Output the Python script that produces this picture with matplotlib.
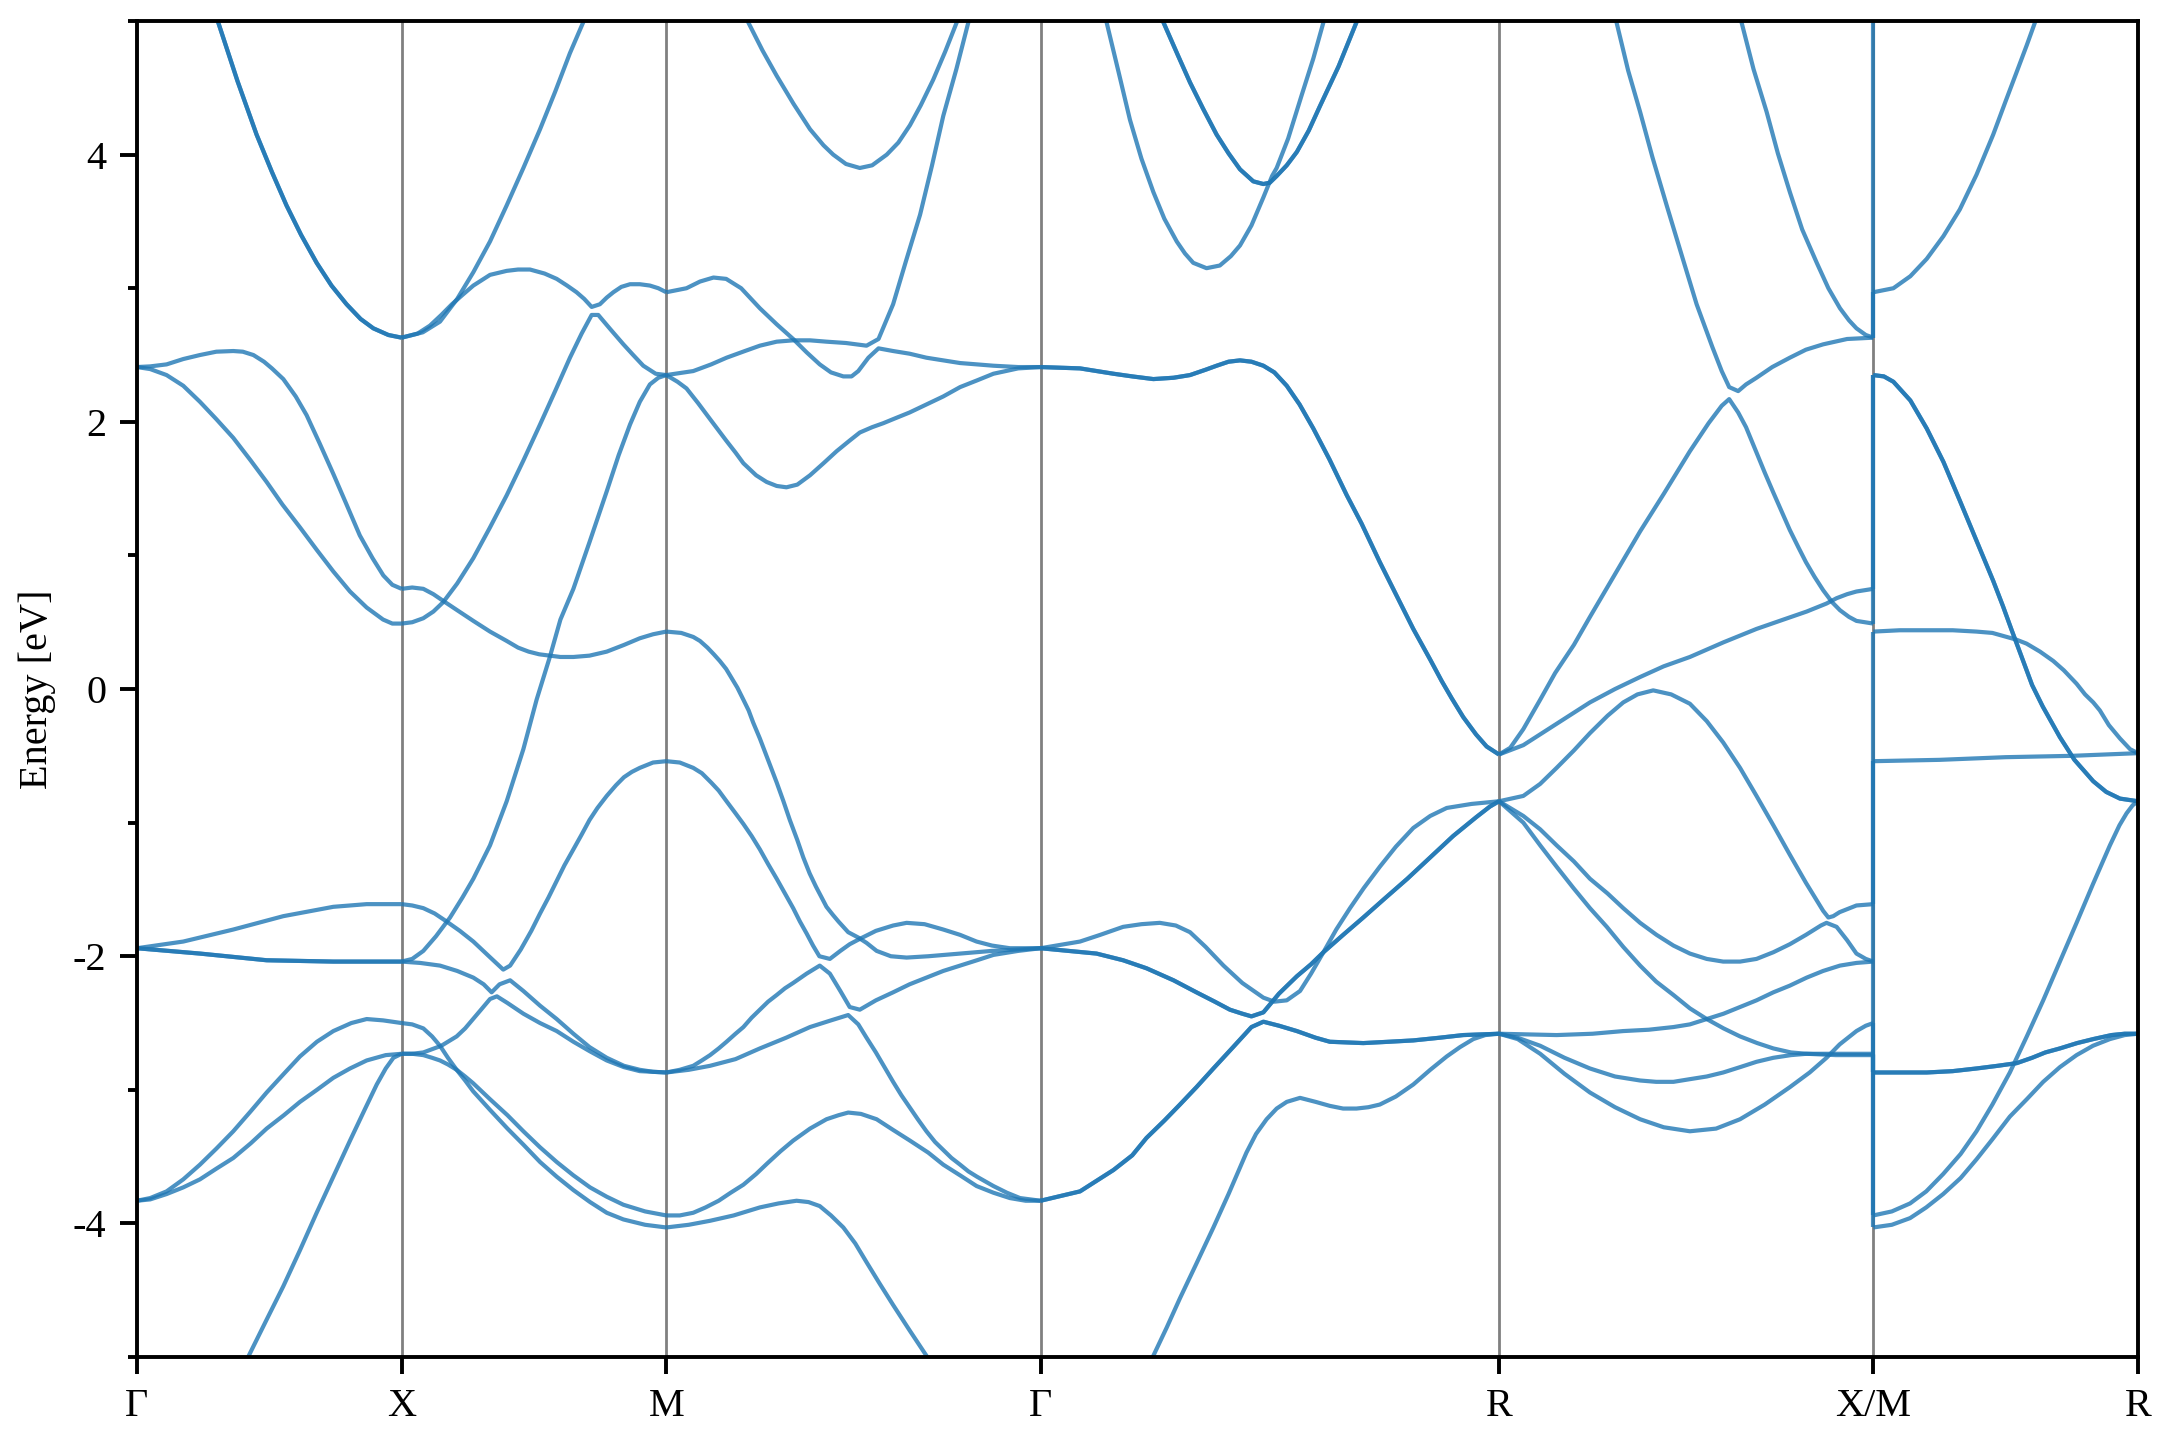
import numpy as np
import matplotlib.pyplot as plt
from matplotlib.ticker import MultipleLocator

plt.rcParams["font.family"] = ["Liberation Serif", "DejaVu Serif"]
plt.rcParams["font.size"] = 14.5
plt.rcParams["axes.unicode_minus"] = False

# path through the simple cubic zone, segment lengths in units of 2pi/a
kpt_labels = ["Γ", "X", "M", "Γ", "R", "X/M", "R"]
seg_lengths = [0.5, 0.5, 0.7071, 0.8660, 0.7071, 0.5]

# bands per segment: (fraction along segment, energy eV); degen = how many bands lie on the curve
gx_bands = [
    [(0.20, 5.62), (0.307, 4.99), (0.38, 4.55), (0.452, 4.15), (0.51, 3.87), (0.565, 3.62), (0.62, 3.40),
     (0.679, 3.19), (0.735, 3.02), (0.792, 2.88), (0.845, 2.77), (0.893, 2.70), (0.95, 2.65), (1.0, 2.63)],
    [(0.0, 2.41), (0.05, 2.415), (0.112, 2.43), (0.175, 2.47), (0.238, 2.50), (0.30, 2.525), (0.364, 2.53),
     (0.40, 2.525), (0.44, 2.50), (0.48, 2.45), (0.51, 2.40), (0.553, 2.32), (0.60, 2.19), (0.641, 2.05),
     (0.69, 1.84), (0.742, 1.61), (0.79, 1.39), (0.842, 1.15), (0.89, 0.98), (0.931, 0.85), (0.965, 0.78),
     (1.0, 0.75)],
    [(0.0, 2.41), (0.05, 2.395), (0.112, 2.35), (0.175, 2.27), (0.238, 2.15), (0.30, 2.02), (0.364, 1.88),
     (0.43, 1.71), (0.49, 1.55), (0.55, 1.38), (0.616, 1.21), (0.68, 1.04), (0.742, 0.88), (0.805, 0.73),
     (0.868, 0.61), (0.93, 0.52), (0.965, 0.49), (1.0, 0.49)],
    [(0.0, -1.94), (0.175, -1.89), (0.364, -1.80), (0.553, -1.70), (0.742, -1.63), (0.868, -1.61), (1.0, -1.61)],
    [(0.0, -1.94), (0.238, -1.98), (0.49, -2.03), (0.742, -2.04), (1.0, -2.04)],
    [(0.0, -3.83), (0.05, -3.81), (0.112, -3.76), (0.175, -3.67), (0.238, -3.56), (0.30, -3.44), (0.364, -3.31),
     (0.43, -3.16), (0.49, -3.02), (0.555, -2.88), (0.616, -2.75), (0.68, -2.64), (0.742, -2.56), (0.81, -2.50),
     (0.868, -2.47), (0.93, -2.48), (1.0, -2.50)],
    [(0.0, -3.83), (0.05, -3.82), (0.112, -3.78), (0.175, -3.73), (0.238, -3.67), (0.30, -3.59), (0.364, -3.51),
     (0.43, -3.40), (0.49, -3.29), (0.555, -3.19), (0.616, -3.09), (0.68, -3.00), (0.742, -2.91), (0.805, -2.84),
     (0.868, -2.78), (0.94, -2.74), (1.0, -2.73)],
    [(0.35, -5.3), (0.42, -5.0), (0.49, -4.72), (0.553, -4.47), (0.616, -4.20), (0.679, -3.92), (0.742, -3.65),
     (0.805, -3.38), (0.86, -3.15), (0.906, -2.96), (0.94, -2.84), (0.969, -2.76), (1.0, -2.73)],
]
gx_degen = [2, 1, 1, 1, 2, 1, 1, 1]

xm_bands = [
    [(0.0, 2.63), (0.08, 2.67), (0.145, 2.75), (0.21, 2.92), (0.271, 3.12), (0.334, 3.35), (0.397, 3.62),
     (0.46, 3.90), (0.523, 4.19), (0.58, 4.47), (0.636, 4.76), (0.686, 4.99), (0.74, 5.3)],
    [(0.0, 2.63), (0.06, 2.66), (0.107, 2.72), (0.15, 2.80), (0.19, 2.88), (0.23, 2.95), (0.271, 3.02),
     (0.334, 3.10), (0.397, 3.13), (0.44, 3.14), (0.485, 3.14), (0.54, 3.11), (0.586, 3.07), (0.625, 3.02),
     (0.661, 2.97), (0.69, 2.92), (0.718, 2.86), (0.749, 2.88), (0.775, 2.93), (0.80, 2.97), (0.83, 3.01),
     (0.863, 3.03), (0.90, 3.03), (0.938, 3.02), (0.97, 3.00), (1.0, 2.97)],
    [(0.0, 0.49), (0.04, 0.50), (0.082, 0.53), (0.12, 0.58), (0.157, 0.65), (0.21, 0.79), (0.271, 0.98),
     (0.334, 1.21), (0.397, 1.45), (0.46, 1.71), (0.523, 1.98), (0.58, 2.23), (0.636, 2.48), (0.68, 2.66),
     (0.718, 2.80), (0.743, 2.80), (0.79, 2.69), (0.838, 2.58), (0.875, 2.50), (0.913, 2.42), (0.96, 2.36),
     (1.0, 2.35)],
    [(0.0, 0.75), (0.04, 0.76), (0.082, 0.75), (0.12, 0.71), (0.157, 0.66), (0.21, 0.59), (0.271, 0.51),
     (0.334, 0.43), (0.397, 0.36), (0.44, 0.31), (0.48, 0.28), (0.52, 0.26), (0.56, 0.25), (0.60, 0.24),
     (0.649, 0.24), (0.71, 0.25), (0.775, 0.28), (0.84, 0.33), (0.9, 0.38), (0.95, 0.41), (1.0, 0.43)],
    [(0.0, -2.04), (0.04, -2.02), (0.082, -1.96), (0.13, -1.85), (0.183, -1.71), (0.23, -1.56), (0.271, -1.42),
     (0.334, -1.17), (0.397, -0.84), (0.46, -0.45), (0.51, -0.08), (0.56, 0.24), (0.60, 0.52), (0.649, 0.75),
     (0.71, 1.10), (0.775, 1.48), (0.82, 1.75), (0.863, 1.98), (0.90, 2.15), (0.938, 2.28), (0.97, 2.33),
     (1.0, 2.35)],
    [(0.0, -1.61), (0.04, -1.62), (0.082, -1.64), (0.125, -1.68), (0.17, -1.74), (0.22, -1.81), (0.271, -1.89),
     (0.33, -2.00), (0.384, -2.10), (0.41, -2.07), (0.45, -1.95), (0.49, -1.81), (0.523, -1.68), (0.555, -1.56),
     (0.585, -1.44), (0.615, -1.32), (0.649, -1.20), (0.68, -1.09), (0.71, -0.98), (0.74, -0.89), (0.775, -0.80),
     (0.81, -0.72), (0.84, -0.66), (0.87, -0.62), (0.9, -0.59), (0.95, -0.55), (1.0, -0.54)],
    [(0.0, -2.04), (0.07, -2.05), (0.145, -2.07), (0.21, -2.11), (0.271, -2.16), (0.31, -2.21), (0.34, -2.27),
     (0.37, -2.21), (0.41, -2.18), (0.46, -2.26), (0.523, -2.37), (0.586, -2.47), (0.649, -2.58), (0.71, -2.68),
     (0.775, -2.76), (0.84, -2.82), (0.9, -2.85), (0.95, -2.865), (1.0, -2.87)],
    [(0.0, -2.73), (0.04, -2.73), (0.082, -2.72), (0.15, -2.67), (0.208, -2.60), (0.24, -2.54), (0.27, -2.47),
     (0.30, -2.40), (0.334, -2.32), (0.36, -2.30), (0.40, -2.35), (0.46, -2.43), (0.523, -2.50), (0.586, -2.56),
     (0.649, -2.64), (0.71, -2.71), (0.775, -2.78), (0.84, -2.83), (0.9, -2.86), (1.0, -2.87)],
    [(0.0, -2.50), (0.04, -2.51), (0.082, -2.54), (0.115, -2.60), (0.145, -2.67), (0.175, -2.76), (0.208, -2.85),
     (0.24, -2.93), (0.27, -3.01), (0.334, -3.15), (0.40, -3.29), (0.46, -3.41), (0.523, -3.54), (0.586, -3.65),
     (0.649, -3.75), (0.712, -3.84), (0.775, -3.92), (0.838, -3.97), (0.92, -4.01), (1.0, -4.03)],
    [(0.0, -2.73), (0.04, -2.73), (0.082, -2.74), (0.115, -2.76), (0.145, -2.78), (0.175, -2.81), (0.208, -2.85),
     (0.24, -2.90), (0.27, -2.95), (0.334, -3.07), (0.40, -3.19), (0.46, -3.31), (0.523, -3.43), (0.586, -3.54),
     (0.649, -3.64), (0.712, -3.73), (0.775, -3.80), (0.838, -3.86), (0.92, -3.91), (1.0, -3.94)],
]
xm_degen = [1] * len(xm_bands)

mg_bands = [
    [(0.17, 5.3), (0.219, 4.99), (0.257, 4.78), (0.295, 4.59), (0.34, 4.38), (0.384, 4.19), (0.42, 4.07),
     (0.446, 4.00), (0.48, 3.93), (0.517, 3.90), (0.55, 3.92), (0.589, 4.00), (0.62, 4.09), (0.651, 4.22),
     (0.68, 4.37), (0.713, 4.56), (0.745, 4.77), (0.776, 4.99), (0.82, 5.3)],
    [(0.0, 2.97), (0.054, 3.00), (0.09, 3.05), (0.126, 3.08), (0.16, 3.07), (0.2, 3.00), (0.25, 2.85),
     (0.295, 2.73), (0.339, 2.62), (0.375, 2.52), (0.41, 2.43), (0.44, 2.37), (0.473, 2.34), (0.495, 2.34),
     (0.513, 2.38), (0.54, 2.48), (0.567, 2.55), (0.606, 2.53), (0.65, 2.51), (0.695, 2.48), (0.74, 2.46),
     (0.785, 2.44), (0.83, 2.43), (0.874, 2.42), (0.94, 2.41), (1.0, 2.41)],
    [(0.0, 2.35), (0.072, 2.38), (0.12, 2.43), (0.161, 2.48), (0.21, 2.53), (0.25, 2.57), (0.295, 2.60),
     (0.339, 2.61), (0.384, 2.61), (0.428, 2.60), (0.48, 2.59), (0.535, 2.57), (0.567, 2.62), (0.606, 2.88),
     (0.64, 3.20), (0.678, 3.55), (0.71, 3.92), (0.74, 4.29), (0.775, 4.64), (0.807, 4.99), (0.83, 5.3)],
    [(0.0, 2.35), (0.03, 2.30), (0.054, 2.25), (0.085, 2.14), (0.117, 2.02), (0.16, 1.86), (0.185, 1.77),
     (0.206, 1.69), (0.24, 1.60), (0.268, 1.55), (0.295, 1.52), (0.321, 1.51), (0.35, 1.53), (0.384, 1.60),
     (0.42, 1.69), (0.455, 1.78), (0.49, 1.86), (0.517, 1.92), (0.55, 1.96), (0.58, 1.99), (0.606, 2.02),
     (0.65, 2.07), (0.695, 2.13), (0.74, 2.19), (0.785, 2.26), (0.83, 2.31), (0.874, 2.36), (0.94, 2.40),
     (1.0, 2.41)],
    [(0.0, 0.43), (0.04, 0.42), (0.072, 0.39), (0.09, 0.36), (0.11, 0.31), (0.127, 0.26), (0.143, 0.21),
     (0.16, 0.15), (0.175, 0.08), (0.19, 0.01), (0.206, -0.08), (0.22, -0.16), (0.232, -0.25), (0.25, -0.37),
     (0.265, -0.48), (0.28, -0.59), (0.295, -0.70), (0.313, -0.84), (0.33, -0.98), (0.35, -1.13), (0.366, -1.26),
     (0.383, -1.38), (0.40, -1.48), (0.415, -1.56), (0.428, -1.63), (0.445, -1.69), (0.46, -1.74), (0.486, -1.82),
     (0.513, -1.86), (0.535, -1.90), (0.562, -1.96), (0.60, -2.00), (0.642, -2.01), (0.70, -2.00), (0.785, -1.98),
     (0.87, -1.96), (1.0, -1.94)],
    [(0.0, -0.54), (0.036, -0.55), (0.072, -0.59), (0.095, -0.63), (0.12, -0.70), (0.14, -0.76), (0.161, -0.84),
     (0.185, -0.93), (0.206, -1.01), (0.228, -1.10), (0.25, -1.20), (0.272, -1.31), (0.295, -1.42), (0.317, -1.53),
     (0.339, -1.64), (0.357, -1.74), (0.375, -1.83), (0.392, -1.92), (0.409, -2.00), (0.437, -2.02), (0.465, -1.96),
     (0.49, -1.91), (0.517, -1.87), (0.56, -1.81), (0.606, -1.77), (0.642, -1.75), (0.69, -1.76), (0.74, -1.80),
     (0.785, -1.84), (0.829, -1.89), (0.87, -1.92), (0.918, -1.94), (1.0, -1.94)],
    [(0.0, -2.87), (0.036, -2.85), (0.072, -2.82), (0.095, -2.78), (0.117, -2.74), (0.14, -2.69), (0.161, -2.64),
     (0.185, -2.58), (0.206, -2.53), (0.228, -2.46), (0.25, -2.40), (0.272, -2.34), (0.295, -2.29), (0.317, -2.24),
     (0.339, -2.20), (0.375, -2.13), (0.41, -2.07), (0.437, -2.13), (0.465, -2.26), (0.49, -2.38), (0.517, -2.40),
     (0.56, -2.33), (0.606, -2.27), (0.65, -2.21), (0.695, -2.16), (0.74, -2.11), (0.785, -2.07), (0.83, -2.03),
     (0.874, -1.99), (0.94, -1.96), (1.0, -1.94)],
    [(0.0, -2.87), (0.06, -2.85), (0.117, -2.82), (0.185, -2.77), (0.25, -2.69), (0.32, -2.61), (0.384, -2.53),
     (0.44, -2.48), (0.486, -2.44), (0.513, -2.51), (0.535, -2.61), (0.56, -2.72), (0.583, -2.83), (0.606, -2.94),
     (0.628, -3.04), (0.65, -3.13), (0.672, -3.22), (0.695, -3.31), (0.718, -3.39), (0.74, -3.45), (0.762, -3.51),
     (0.785, -3.56), (0.807, -3.61), (0.83, -3.65), (0.874, -3.72), (0.91, -3.77), (0.945, -3.81), (1.0, -3.83)],
    [(0.0, -3.94), (0.036, -3.94), (0.072, -3.92), (0.105, -3.88), (0.14, -3.83), (0.172, -3.77), (0.206, -3.71),
     (0.24, -3.63), (0.27, -3.55), (0.305, -3.46), (0.339, -3.38), (0.384, -3.29), (0.428, -3.22), (0.46, -3.19),
     (0.486, -3.17), (0.52, -3.18), (0.562, -3.22), (0.606, -3.30), (0.651, -3.38), (0.70, -3.47), (0.74, -3.56),
     (0.785, -3.64), (0.829, -3.72), (0.874, -3.77), (0.918, -3.81), (0.96, -3.83), (1.0, -3.83)],
    [(0.0, -4.03), (0.06, -4.01), (0.117, -3.98), (0.18, -3.94), (0.25, -3.88), (0.30, -3.85), (0.348, -3.83),
     (0.38, -3.84), (0.41, -3.87), (0.44, -3.94), (0.473, -4.03), (0.505, -4.15), (0.535, -4.29), (0.57, -4.45),
     (0.606, -4.61), (0.65, -4.80), (0.695, -4.99), (0.75, -5.3)],
]
mg_degen = [1] * len(mg_bands)

gr_bands = [
    [(0.0, 2.41), (0.086, 2.40), (0.159, 2.36), (0.2, 2.34), (0.246, 2.32), (0.29, 2.33), (0.326, 2.35),
     (0.36, 2.39), (0.384, 2.42), (0.41, 2.45), (0.435, 2.46), (0.46, 2.45), (0.486, 2.42), (0.51, 2.37),
     (0.537, 2.27), (0.565, 2.13), (0.595, 1.95), (0.63, 1.72), (0.668, 1.45), (0.70, 1.24), (0.74, 0.95),
     (0.775, 0.71), (0.813, 0.45), (0.85, 0.22), (0.875, 0.06), (0.897, -0.07), (0.922, -0.21), (0.95, -0.34),
     (0.973, -0.43), (1.0, -0.49)],
    [(0.12, 5.3), (0.144, 4.99), (0.17, 4.62), (0.195, 4.26), (0.22, 3.97), (0.246, 3.72), (0.27, 3.52),
     (0.297, 3.35), (0.315, 3.26), (0.333, 3.19), (0.362, 3.15), (0.391, 3.17), (0.415, 3.24), (0.435, 3.32),
     (0.46, 3.47), (0.486, 3.68), (0.505, 3.84), (0.515, 3.90), (0.54, 4.12), (0.57, 4.45), (0.595, 4.72),
     (0.617, 4.99), (0.64, 5.3)],
    [(0.22, 5.4), (0.268, 4.99), (0.3, 4.74), (0.326, 4.54), (0.355, 4.34), (0.384, 4.15), (0.41, 4.01),
     (0.435, 3.89), (0.464, 3.80), (0.486, 3.78), (0.5, 3.79), (0.515, 3.84), (0.537, 3.92), (0.559, 4.02),
     (0.585, 4.18), (0.609, 4.36), (0.65, 4.66), (0.689, 4.99), (0.72, 5.3)],
    [(0.0, -1.94), (0.086, -1.89), (0.13, -1.84), (0.18, -1.78), (0.22, -1.76), (0.26, -1.75), (0.295, -1.77),
     (0.326, -1.82), (0.36, -1.93), (0.399, -2.07), (0.44, -2.20), (0.486, -2.31), (0.51, -2.34), (0.537, -2.33),
     (0.566, -2.26), (0.59, -2.13), (0.617, -1.97), (0.645, -1.80), (0.675, -1.64), (0.705, -1.49), (0.74, -1.33),
     (0.775, -1.18), (0.813, -1.04), (0.85, -0.95), (0.886, -0.89), (0.94, -0.86), (1.0, -0.84)],
    [(0.0, -1.94), (0.122, -1.98), (0.18, -2.03), (0.231, -2.09), (0.29, -2.18), (0.34, -2.27), (0.38, -2.34),
     (0.413, -2.40), (0.44, -2.43), (0.46, -2.45), (0.486, -2.42), (0.52, -2.28), (0.559, -2.15), (0.59, -2.06),
     (0.617, -1.97), (0.66, -1.84), (0.704, -1.71), (0.75, -1.57), (0.80, -1.42), (0.85, -1.26), (0.9, -1.10),
     (0.95, -0.96), (0.98, -0.88), (1.0, -0.84)],
    [(0.0, -3.83), (0.086, -3.76), (0.159, -3.60), (0.2, -3.49), (0.231, -3.36), (0.27, -3.23), (0.304, -3.11),
     (0.34, -2.98), (0.377, -2.84), (0.42, -2.68), (0.46, -2.53), (0.486, -2.49), (0.52, -2.52), (0.559, -2.56),
     (0.6, -2.61), (0.631, -2.64), (0.704, -2.65), (0.76, -2.64), (0.813, -2.63), (0.87, -2.61), (0.922, -2.59),
     (1.0, -2.58)],
    [(0.2, -5.3), (0.246, -4.99), (0.275, -4.78), (0.304, -4.56), (0.34, -4.30), (0.377, -4.03), (0.41, -3.78),
     (0.449, -3.47), (0.47, -3.33), (0.493, -3.22), (0.515, -3.14), (0.537, -3.09), (0.566, -3.06), (0.6, -3.09),
     (0.631, -3.12), (0.66, -3.14), (0.689, -3.14), (0.715, -3.13), (0.74, -3.11), (0.775, -3.05), (0.813, -2.96),
     (0.85, -2.85), (0.886, -2.75), (0.915, -2.68), (0.944, -2.62), (0.97, -2.59), (1.0, -2.58)],
]
gr_degen = [2, 1, 2, 1, 2, 2, 1]

rx_bands = [
    [(0.28, 5.3), (0.314, 4.99), (0.345, 4.63), (0.377, 4.32), (0.41, 3.98), (0.448, 3.62), (0.49, 3.23),
     (0.528, 2.88), (0.57, 2.56), (0.595, 2.38), (0.615, 2.26), (0.639, 2.23), (0.66, 2.28), (0.688, 2.33),
     (0.73, 2.41), (0.777, 2.48), (0.82, 2.54), (0.866, 2.58), (0.93, 2.62), (1.0, 2.63)],
    [(0.62, 5.3), (0.648, 4.99), (0.68, 4.64), (0.715, 4.32), (0.745, 4.01), (0.777, 3.72), (0.81, 3.44),
     (0.849, 3.19), (0.88, 3.00), (0.911, 2.85), (0.935, 2.76), (0.955, 2.70), (0.98, 2.65), (1.0, 2.63)],
    [(0.0, -0.49), (0.03, -0.44), (0.065, -0.30), (0.11, -0.08), (0.15, 0.12), (0.2, 0.33), (0.243, 0.54),
     (0.31, 0.86), (0.377, 1.18), (0.44, 1.46), (0.51, 1.78), (0.56, 1.99), (0.595, 2.12), (0.615, 2.17),
     (0.639, 2.07), (0.66, 1.96), (0.688, 1.77), (0.71, 1.62), (0.733, 1.47), (0.755, 1.33), (0.777, 1.19),
     (0.80, 1.06), (0.82, 0.95), (0.843, 0.84), (0.866, 0.74), (0.89, 0.65), (0.911, 0.59), (0.935, 0.54),
     (0.955, 0.51), (1.0, 0.49)],
    [(0.0, -0.49), (0.065, -0.42), (0.154, -0.26), (0.243, -0.10), (0.31, 0.0), (0.377, 0.09), (0.44, 0.17),
     (0.51, 0.24), (0.6, 0.35), (0.688, 0.45), (0.76, 0.52), (0.822, 0.58), (0.875, 0.64), (0.902, 0.68),
     (0.93, 0.71), (0.955, 0.73), (1.0, 0.75)],
    [(0.0, -0.84), (0.065, -0.80), (0.11, -0.71), (0.154, -0.59), (0.2, -0.46), (0.243, -0.33), (0.29, -0.20),
     (0.332, -0.10), (0.37, -0.04), (0.412, -0.01), (0.46, -0.04), (0.51, -0.11), (0.555, -0.24), (0.599, -0.40),
     (0.644, -0.59), (0.688, -0.80), (0.733, -1.02), (0.777, -1.24), (0.82, -1.45), (0.866, -1.66), (0.88, -1.71),
     (0.893, -1.70), (0.91, -1.67), (0.955, -1.62), (1.0, -1.61)],
    [(0.0, -0.84), (0.065, -0.95), (0.11, -1.05), (0.154, -1.17), (0.2, -1.29), (0.243, -1.42), (0.29, -1.53),
     (0.332, -1.64), (0.377, -1.75), (0.421, -1.84), (0.466, -1.92), (0.51, -1.98), (0.555, -2.02), (0.599, -2.04),
     (0.644, -2.04), (0.688, -2.02), (0.733, -1.97), (0.777, -1.91), (0.82, -1.84), (0.86, -1.77), (0.875, -1.75),
     (0.902, -1.78), (0.93, -1.88), (0.955, -1.98), (0.98, -2.02), (1.0, -2.04)],
    [(0.0, -0.84), (0.065, -1.00), (0.11, -1.17), (0.154, -1.33), (0.199, -1.49), (0.243, -1.64), (0.288, -1.78),
     (0.332, -1.93), (0.377, -2.07), (0.42, -2.19), (0.466, -2.29), (0.51, -2.39), (0.555, -2.47), (0.6, -2.54),
     (0.644, -2.60), (0.69, -2.65), (0.733, -2.69), (0.78, -2.72), (0.822, -2.73), (0.9, -2.74), (1.0, -2.74)],
    [(0.0, -2.58), (0.154, -2.59), (0.25, -2.58), (0.332, -2.56), (0.4, -2.55), (0.466, -2.53), (0.51, -2.51),
     (0.555, -2.47), (0.6, -2.43), (0.644, -2.38), (0.688, -2.33), (0.733, -2.27), (0.777, -2.22), (0.822, -2.16),
     (0.866, -2.11), (0.911, -2.07), (0.955, -2.05), (1.0, -2.04)],
    [(0.0, -2.58), (0.05, -2.61), (0.11, -2.67), (0.175, -2.76), (0.243, -2.84), (0.31, -2.90), (0.377, -2.93),
     (0.42, -2.94), (0.466, -2.94), (0.51, -2.92), (0.555, -2.90), (0.599, -2.87), (0.644, -2.83), (0.688, -2.79),
     (0.733, -2.76), (0.78, -2.74), (0.822, -2.73), (0.866, -2.73), (1.0, -2.73)],
    [(0.0, -2.58), (0.05, -2.62), (0.11, -2.73), (0.175, -2.88), (0.243, -3.02), (0.31, -3.13), (0.377, -3.22),
     (0.44, -3.28), (0.51, -3.31), (0.58, -3.29), (0.644, -3.22), (0.71, -3.11), (0.777, -2.98), (0.83, -2.87),
     (0.875, -2.76), (0.91, -2.66), (0.955, -2.56), (0.98, -2.52), (1.0, -2.50)],
]
rx_degen = [1] * len(rx_bands)

mr_bands = [
    [(0.0, 2.97), (0.076, 3.00), (0.14, 3.09), (0.202, 3.22), (0.265, 3.39), (0.327, 3.59), (0.39, 3.85),
     (0.453, 4.15), (0.5, 4.40), (0.542, 4.62), (0.58, 4.82), (0.611, 4.99), (0.65, 5.3)],
    [(0.0, 2.35), (0.04, 2.34), (0.076, 2.30), (0.14, 2.16), (0.202, 1.95), (0.265, 1.70), (0.327, 1.41),
     (0.39, 1.11), (0.453, 0.81), (0.49, 0.62), (0.523, 0.44), (0.555, 0.27), (0.6, 0.03), (0.64, -0.13),
     (0.705, -0.36), (0.76, -0.53), (0.831, -0.69), (0.88, -0.77), (0.932, -0.82), (1.0, -0.84)],
    [(0.0, 0.43), (0.1, 0.44), (0.202, 0.44), (0.3, 0.44), (0.39, 0.43), (0.45, 0.42), (0.504, 0.39),
     (0.54, 0.37), (0.579, 0.34), (0.63, 0.28), (0.68, 0.21), (0.72, 0.14), (0.768, 0.04), (0.8, -0.04),
     (0.831, -0.10), (0.856, -0.16), (0.89, -0.27), (0.932, -0.37), (0.97, -0.45), (1.0, -0.48)],
    [(0.0, -0.54), (0.25, -0.53), (0.5, -0.51), (0.75, -0.50), (1.0, -0.48)],
    [(0.0, -2.87), (0.1, -2.87), (0.202, -2.87), (0.3, -2.86), (0.39, -2.84), (0.47, -2.82), (0.542, -2.80),
     (0.6, -2.76), (0.65, -2.72), (0.705, -2.69), (0.77, -2.65), (0.831, -2.62), (0.9, -2.59), (0.95, -2.58),
     (1.0, -2.58)],
    [(0.0, -3.94), (0.07, -3.91), (0.139, -3.85), (0.2, -3.76), (0.264, -3.63), (0.33, -3.48), (0.39, -3.31),
     (0.45, -3.11), (0.516, -2.87), (0.58, -2.60), (0.642, -2.33), (0.705, -2.04), (0.768, -1.75), (0.83, -1.46),
     (0.894, -1.17), (0.93, -1.02), (0.957, -0.93), (0.98, -0.87), (1.0, -0.84)],
    [(0.0, -4.03), (0.07, -4.01), (0.139, -3.96), (0.2, -3.88), (0.264, -3.78), (0.33, -3.66), (0.39, -3.52),
     (0.45, -3.37), (0.516, -3.20), (0.58, -3.07), (0.642, -2.94), (0.705, -2.83), (0.768, -2.74), (0.83, -2.67),
     (0.894, -2.62), (0.95, -2.59), (1.0, -2.58)],
]
mr_degen = [1, 2, 1, 1, 2, 1, 1]

# sorted levels on both sides of the X|M break, joined band by band
x_end_levels = [-2.74, -2.73, -2.50, -2.04, -2.04, -1.61, 0.49, 0.75, 2.63, 2.63]
m_start_levels = [-4.03, -3.94, -2.87, -2.87, -0.54, 0.43, 2.35, 2.35, 2.97, 5.5]

segments = [
    (gx_bands, gx_degen),
    (xm_bands, xm_degen),
    (mg_bands, mg_degen),
    (gr_bands, gr_degen),
    (rx_bands, rx_degen),
    (mr_bands, mr_degen),
]

kpts = np.concatenate([[0.0], np.cumsum(seg_lengths)])
band_style = dict(color="C0", alpha=0.8, lw=1.5, solid_capstyle="butt", solid_joinstyle="round", zorder=2)

fig, ax = plt.subplots(figsize=(10.8, 7.2), dpi=200)
fig.subplots_adjust(left=0.0634, right=0.9898, bottom=0.0576, top=0.9854)

for x in kpts[1:-1]:
    ax.axvline(x, color="gray", lw=1.0, zorder=1)

for i, (bands, degen) in enumerate(segments):
    k0, length = kpts[i], seg_lengths[i]
    for band, n in zip(bands, degen):
        t, e = np.array(band).T
        for _ in range(n):
            ax.plot(k0 + t * length, e, **band_style)

k_break = kpts[5]
for ex, em in zip(x_end_levels, m_start_levels):
    ax.plot([k_break, k_break], [ex, em], **band_style)

ax.set_xlim(kpts[0], kpts[-1])
ax.set_ylim(-5, 5)
ax.set_xticks(kpts)
ax.set_xticklabels(kpt_labels)
ax.yaxis.set_major_locator(MultipleLocator(2))
ax.yaxis.set_minor_locator(MultipleLocator(1))
ax.tick_params(axis="both", which="major", direction="out", length=6, width=1.4, pad=5)
ax.tick_params(axis="y", which="minor", direction="out", length=3.2, width=1.4)
for spine in ax.spines.values():
    spine.set_linewidth(1.4)
ax.set_ylabel("Energy [eV]", labelpad=6)

fig.savefig("out.png", dpi=200)
